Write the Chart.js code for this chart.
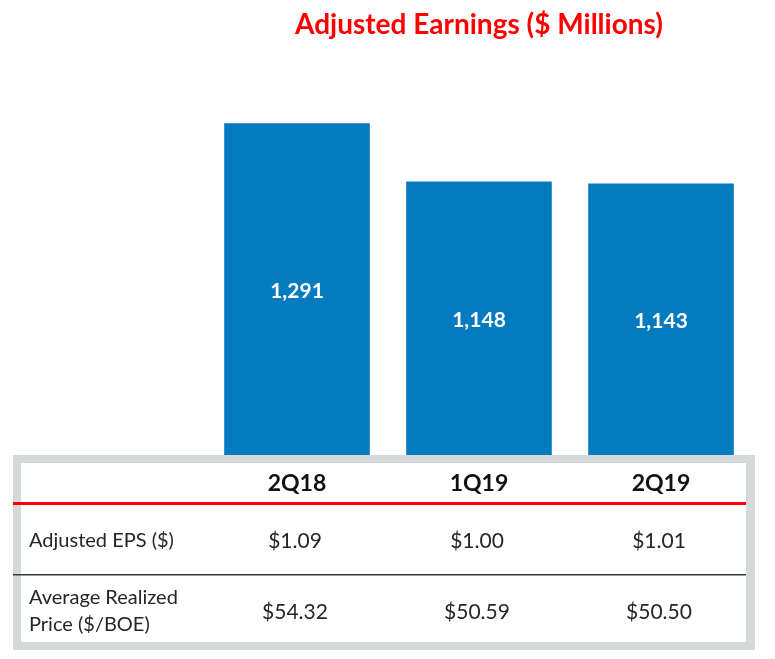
<!DOCTYPE html>
<html lang="en">
<head>
    <meta charset="UTF-8">
    <title>Adjusted Earnings</title>
    <script src="https://cdn.jsdelivr.net/npm/chart.js"></script>
    <style>
        html, body { margin: 0; padding: 0; background: #fff; }
        canvas { display: block; }
    </style>
</head>
<body>
    <canvas id="earningsChart" width="775" height="659"></canvas>

    <script>
        // Chart data
        const quarters = ['2Q18', '1Q19', '2Q19'];
        const adjustedEarnings = [1291, 1148, 1143];
        const earningsLabels = ['1,291', '1,148', '1,143'];
        const epsValues = ['$1.09', '$1.00', '$1.01'];
        const priceValues = ['$54.32', '$50.59', '$50.50'];
        const rowLabels = [['Adjusted EPS ($)'], ['Average Realized', 'Price ($/BOE)']];

        const FONT = 'Lato, "Open Sans", sans-serif';
        const TABLE_TOP = 455;

        // White value labels, centred in the visible part of each bar
        const barLabels = {
            id: 'barLabels',
            afterDatasetsDraw(chart) {
                const ctx = chart.ctx;
                const meta = chart.getDatasetMeta(0);
                ctx.save();
                ctx.fillStyle = '#ffffff';
                ctx.font = 'bold 21px ' + FONT;
                ctx.textAlign = 'center';
                ctx.textBaseline = 'middle';
                meta.data.forEach((bar, i) => {
                    ctx.fillText(earningsLabels[i], bar.x, (bar.y + TABLE_TOP) / 2 + 2);
                });
                ctx.restore();
            }
        };

        // Data table drawn over the foot of the bars
        const dataTable = {
            id: 'dataTable',
            afterDraw(chart) {
                const ctx = chart.ctx;
                const xScale = chart.scales.x;
                ctx.save();

                // grey frame + white inside
                ctx.fillStyle = '#d5d9dc';
                ctx.fillRect(13, TABLE_TOP, 742, 195);
                ctx.fillStyle = '#ffffff';
                ctx.fillRect(21, TABLE_TOP + 8, 725, 179);

                // red rule under the header
                ctx.fillStyle = '#ff0000';
                ctx.fillRect(13, 502, 733, 3);

                // thin dark rule between rows
                ctx.fillStyle = '#3a3a3a';
                ctx.fillRect(13, 574, 733, 1.5);

                ctx.textAlign = 'center';
                ctx.textBaseline = 'middle';

                // header
                ctx.fillStyle = '#111111';
                ctx.font = 'bold 23px ' + FONT;
                quarters.forEach((q, i) => {
                    ctx.fillText(q, xScale.getPixelForValue(i), 484);
                });

                // values
                ctx.fillStyle = '#262626';
                ctx.font = '21px ' + FONT;
                epsValues.forEach((v, i) => {
                    ctx.fillText(v, xScale.getPixelForValue(i) - 2, 541);
                });
                priceValues.forEach((v, i) => {
                    ctx.fillText(v, xScale.getPixelForValue(i) - 2, 612);
                });

                // row labels
                ctx.textAlign = 'left';
                ctx.font = '20px ' + FONT;
                ctx.fillText(rowLabels[0][0], 29, 541);
                ctx.fillText(rowLabels[1][0], 29, 598);
                ctx.fillText(rowLabels[1][1], 29, 625);

                ctx.restore();
            }
        };

        const ctx = document.getElementById('earningsChart').getContext('2d');
        const earningsChart = new Chart(ctx, {
            type: 'bar',
            data: {
                labels: quarters,
                datasets: [{
                    label: 'Adjusted Earnings',
                    data: adjustedEarnings,
                    backgroundColor: '#047abf',
                    borderWidth: 0,
                    barPercentage: 0.8,
                    categoryPercentage: 1.0
                }]
            },
            options: {
                responsive: false,
                animation: false,
                devicePixelRatio: 1,
                layout: {
                    padding: { left: 206, right: 23, top: 0, bottom: 10 }
                },
                scales: {
                    x: { display: false },
                    y: { display: false, min: 0, max: 1450 }
                },
                plugins: {
                    legend: { display: false },
                    tooltip: { enabled: false },
                    title: {
                        display: true,
                        text: 'Adjusted Earnings ($ Millions)',
                        color: '#ff0000',
                        font: { family: FONT, size: 28, weight: 'bold' },
                        padding: { top: 8, bottom: 17 }
                    }
                }
            },
            plugins: [barLabels, dataTable]
        });
    </script>
</body>
</html>
